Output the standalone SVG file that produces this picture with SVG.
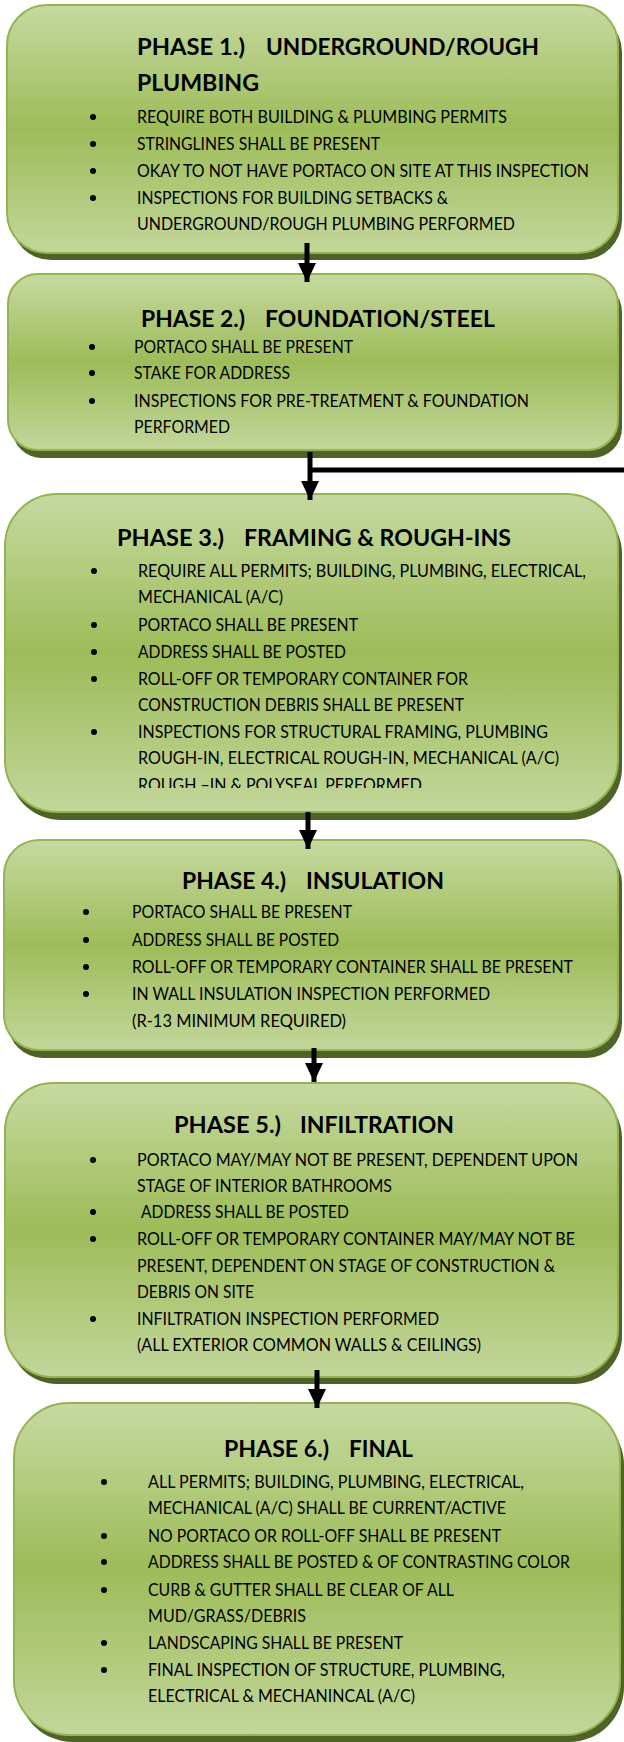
<svg xmlns="http://www.w3.org/2000/svg" width="624" height="1742" viewBox="0 0 624 1742">
<style>
.box{fill:url(#g);stroke:#93b450;stroke-width:2}
.sh{fill:#4f6228}
.t{font-family:Lato,"Liberation Sans",sans-serif;font-weight:700;font-size:23px;fill:#000}
.b{font-family:Lato,"Liberation Sans",sans-serif;font-weight:400;font-size:17px;fill:#000}
.dot{fill:#000}
.conn{stroke:#000;stroke-width:5;fill:none}
</style>
<defs>
<linearGradient id="g" x1="0" y1="0" x2="0" y2="1">
<stop offset="0" stop-color="#c6d9a0"/>
<stop offset="0.5" stop-color="#9dbc59"/>
<stop offset="1" stop-color="#c3d69b"/>
</linearGradient>
<marker id="ah" markerUnits="userSpaceOnUse" markerWidth="20" markerHeight="20" refX="19" refY="9" orient="auto">
<path d="M0,0 L19,9 L0,18 z" fill="#000"/>
</marker>
<clipPath id="c3"><rect x="0" y="490" width="624" height="298"/></clipPath>
</defs>

<g id="phase1">
<rect class="sh" x="11" y="12" width="611" height="248" rx="40"/>
<rect class="box" x="7" y="5" width="611" height="248" rx="40"/>
<text class="t" x="137" y="55" textLength="108" lengthAdjust="spacingAndGlyphs">PHASE 1.)</text>
<text class="t" x="266" y="55" textLength="273" lengthAdjust="spacingAndGlyphs">UNDERGROUND/ROUGH</text>
<text class="t" x="137" y="91" textLength="122" lengthAdjust="spacingAndGlyphs">PLUMBING</text>
<circle class="dot" cx="93" cy="117" r="3"/>
<circle class="dot" cx="93" cy="144" r="3"/>
<circle class="dot" cx="93" cy="171" r="3"/>
<circle class="dot" cx="93" cy="198" r="3"/>
<text class="b" x="137" y="123" textLength="370" lengthAdjust="spacingAndGlyphs">REQUIRE BOTH BUILDING &amp; PLUMBING PERMITS</text>
<text class="b" x="137" y="150" textLength="243" lengthAdjust="spacingAndGlyphs">STRINGLINES SHALL BE PRESENT</text>
<text class="b" x="137" y="177" textLength="452" lengthAdjust="spacingAndGlyphs">OKAY TO NOT HAVE PORTACO ON SITE AT THIS INSPECTION</text>
<text class="b" x="137" y="204" textLength="311" lengthAdjust="spacingAndGlyphs">INSPECTIONS FOR BUILDING SETBACKS &amp;</text>
<text class="b" x="137" y="230" textLength="378" lengthAdjust="spacingAndGlyphs">UNDERGROUND/ROUGH PLUMBING PERFORMED</text>
</g>

<g id="phase2">
<rect class="sh" x="12" y="282" width="610" height="176" rx="30"/>
<rect class="box" x="8" y="274" width="610" height="176" rx="30"/>
<text class="t" x="141" y="327" textLength="104" lengthAdjust="spacingAndGlyphs">PHASE 2.)</text>
<text class="t" x="265" y="327" textLength="230" lengthAdjust="spacingAndGlyphs">FOUNDATION/STEEL</text>
<circle class="dot" cx="92" cy="347" r="3"/>
<circle class="dot" cx="92" cy="373" r="3"/>
<circle class="dot" cx="92" cy="401" r="3"/>
<text class="b" x="134" y="353" textLength="219" lengthAdjust="spacingAndGlyphs">PORTACO SHALL BE PRESENT</text>
<text class="b" x="134" y="379" textLength="156" lengthAdjust="spacingAndGlyphs">STAKE FOR ADDRESS</text>
<text class="b" x="134" y="407" textLength="395" lengthAdjust="spacingAndGlyphs">INSPECTIONS FOR PRE-TREATMENT &amp; FOUNDATION</text>
<text class="b" x="134" y="433" textLength="96" lengthAdjust="spacingAndGlyphs">PERFORMED</text>
</g>

<g id="phase3">
<rect class="sh" x="9" y="502" width="613" height="318" rx="52"/>
<rect class="box" x="5" y="494" width="613" height="318" rx="52"/>
<text class="t" x="117" y="546" textLength="107" lengthAdjust="spacingAndGlyphs">PHASE 3.)</text>
<text class="t" x="244" y="546" textLength="267" lengthAdjust="spacingAndGlyphs">FRAMING &amp; ROUGH-INS</text>
<circle class="dot" cx="94" cy="571" r="3"/>
<circle class="dot" cx="94" cy="625" r="3"/>
<circle class="dot" cx="94" cy="652" r="3"/>
<circle class="dot" cx="94" cy="679" r="3"/>
<circle class="dot" cx="94" cy="732" r="3"/>
<g clip-path="url(#c3)">
<text class="b" x="138" y="577" textLength="448" lengthAdjust="spacingAndGlyphs">REQUIRE ALL PERMITS; BUILDING, PLUMBING, ELECTRICAL,</text>
<text class="b" x="138" y="603" textLength="145" lengthAdjust="spacingAndGlyphs">MECHANICAL (A/C)</text>
<text class="b" x="138" y="631" textLength="220" lengthAdjust="spacingAndGlyphs">PORTACO SHALL BE PRESENT</text>
<text class="b" x="138" y="658" textLength="208" lengthAdjust="spacingAndGlyphs">ADDRESS SHALL BE POSTED</text>
<text class="b" x="138" y="685" textLength="330" lengthAdjust="spacingAndGlyphs">ROLL-OFF OR TEMPORARY CONTAINER FOR</text>
<text class="b" x="138" y="711" textLength="326" lengthAdjust="spacingAndGlyphs">CONSTRUCTION DEBRIS SHALL BE PRESENT</text>
<text class="b" x="138" y="738" textLength="410" lengthAdjust="spacingAndGlyphs">INSPECTIONS FOR STRUCTURAL FRAMING, PLUMBING</text>
<text class="b" x="138" y="764" textLength="421" lengthAdjust="spacingAndGlyphs">ROUGH-IN, ELECTRICAL ROUGH-IN,  MECHANICAL (A/C)</text>
<text class="b" x="138" y="791" textLength="284" lengthAdjust="spacingAndGlyphs">ROUGH –IN &amp; POLYSEAL PERFORMED</text>
</g>
</g>

<g id="phase4">
<rect class="sh" x="8" y="848" width="614" height="210" rx="35"/>
<rect class="box" x="4" y="840" width="614" height="210" rx="35"/>
<text class="t" x="182" y="889" textLength="104" lengthAdjust="spacingAndGlyphs">PHASE 4.)</text>
<text class="t" x="306" y="889" textLength="138" lengthAdjust="spacingAndGlyphs">INSULATION</text>
<circle class="dot" cx="86" cy="912" r="3"/>
<circle class="dot" cx="86" cy="940" r="3"/>
<circle class="dot" cx="86" cy="967" r="3"/>
<circle class="dot" cx="86" cy="994" r="3"/>
<text class="b" x="132" y="918" textLength="220" lengthAdjust="spacingAndGlyphs">PORTACO SHALL BE PRESENT</text>
<text class="b" x="132" y="946" textLength="207" lengthAdjust="spacingAndGlyphs">ADDRESS SHALL BE POSTED</text>
<text class="b" x="132" y="973" textLength="441" lengthAdjust="spacingAndGlyphs">ROLL-OFF OR TEMPORARY CONTAINER SHALL BE PRESENT</text>
<text class="b" x="132" y="1000" textLength="358" lengthAdjust="spacingAndGlyphs">IN WALL INSULATION INSPECTION PERFORMED</text>
<text class="b" x="132" y="1027" textLength="214" lengthAdjust="spacingAndGlyphs">(R-13 MINIMUM REQUIRED)</text>
</g>

<g id="phase5">
<rect class="sh" x="9" y="1090" width="613" height="294" rx="48"/>
<rect class="box" x="5" y="1083" width="613" height="294" rx="48"/>
<text class="t" x="174" y="1133" textLength="107" lengthAdjust="spacingAndGlyphs">PHASE 5.)</text>
<text class="t" x="300" y="1133" textLength="154" lengthAdjust="spacingAndGlyphs">INFILTRATION</text>
<circle class="dot" cx="93" cy="1160" r="3"/>
<circle class="dot" cx="93" cy="1212" r="3"/>
<circle class="dot" cx="93" cy="1239" r="3"/>
<circle class="dot" cx="93" cy="1319" r="3"/>
<text class="b" x="137" y="1166" textLength="441" lengthAdjust="spacingAndGlyphs">PORTACO MAY/MAY NOT BE PRESENT, DEPENDENT UPON</text>
<text class="b" x="137" y="1192" textLength="255" lengthAdjust="spacingAndGlyphs">STAGE OF INTERIOR BATHROOMS</text>
<text class="b" x="141" y="1218" textLength="208" lengthAdjust="spacingAndGlyphs">ADDRESS SHALL BE POSTED</text>
<text class="b" x="137" y="1245" textLength="438" lengthAdjust="spacingAndGlyphs">ROLL-OFF OR TEMPORARY CONTAINER MAY/MAY NOT BE</text>
<text class="b" x="137" y="1272" textLength="418" lengthAdjust="spacingAndGlyphs">PRESENT, DEPENDENT ON STAGE OF CONSTRUCTION &amp;</text>
<text class="b" x="137" y="1298" textLength="117" lengthAdjust="spacingAndGlyphs">DEBRIS ON SITE</text>
<text class="b" x="137" y="1325" textLength="302" lengthAdjust="spacingAndGlyphs">INFILTRATION INSPECTION PERFORMED</text>
<text class="b" x="137" y="1351" textLength="344" lengthAdjust="spacingAndGlyphs">(ALL EXTERIOR COMMON WALLS &amp; CEILINGS)</text>
</g>

<g id="phase6">
<rect class="sh" x="18" y="1410" width="606" height="332" rx="55"/>
<rect class="box" x="14" y="1403" width="606" height="332" rx="55"/>
<text class="t" x="224" y="1457" textLength="105" lengthAdjust="spacingAndGlyphs">PHASE 6.)</text>
<text class="t" x="349" y="1457" textLength="64" lengthAdjust="spacingAndGlyphs">FINAL</text>
<circle class="dot" cx="104" cy="1482" r="3"/>
<circle class="dot" cx="104" cy="1536" r="3"/>
<circle class="dot" cx="104" cy="1562" r="3"/>
<circle class="dot" cx="104" cy="1590" r="3"/>
<circle class="dot" cx="104" cy="1643" r="3"/>
<circle class="dot" cx="104" cy="1670" r="3"/>
<text class="b" x="148" y="1488" textLength="376" lengthAdjust="spacingAndGlyphs">ALL PERMITS; BUILDING, PLUMBING, ELECTRICAL,</text>
<text class="b" x="148" y="1514" textLength="358" lengthAdjust="spacingAndGlyphs">MECHANICAL (A/C) SHALL BE CURRENT/ACTIVE</text>
<text class="b" x="148" y="1542" textLength="353" lengthAdjust="spacingAndGlyphs">NO PORTACO OR ROLL-OFF SHALL BE PRESENT</text>
<text class="b" x="148" y="1568" textLength="422" lengthAdjust="spacingAndGlyphs">ADDRESS SHALL BE POSTED &amp; OF CONTRASTING COLOR</text>
<text class="b" x="148" y="1596" textLength="306" lengthAdjust="spacingAndGlyphs">CURB &amp; GUTTER SHALL BE CLEAR OF ALL</text>
<text class="b" x="148" y="1622" textLength="158" lengthAdjust="spacingAndGlyphs">MUD/GRASS/DEBRIS</text>
<text class="b" x="148" y="1649" textLength="255" lengthAdjust="spacingAndGlyphs">LANDSCAPING SHALL BE PRESENT</text>
<text class="b" x="148" y="1676" textLength="357" lengthAdjust="spacingAndGlyphs">FINAL INSPECTION OF STRUCTURE, PLUMBING,</text>
<text class="b" x="148" y="1702" textLength="267" lengthAdjust="spacingAndGlyphs">ELECTRICAL &amp; MECHANINCAL (A/C)</text>
</g>

<g id="connectors">
<path class="conn" d="M307,243 L307,282" marker-end="url(#ah)"/>
<path class="conn" d="M310,452 L310,500" marker-end="url(#ah)"/>
<path class="conn" d="M310,470 L624,470"/>
<path class="conn" d="M308,812 L308,849" marker-end="url(#ah)"/>
<path class="conn" d="M314,1048 L314,1082" marker-end="url(#ah)"/>
<path class="conn" d="M317,1370 L317,1408" marker-end="url(#ah)"/>
</g>
</svg>
